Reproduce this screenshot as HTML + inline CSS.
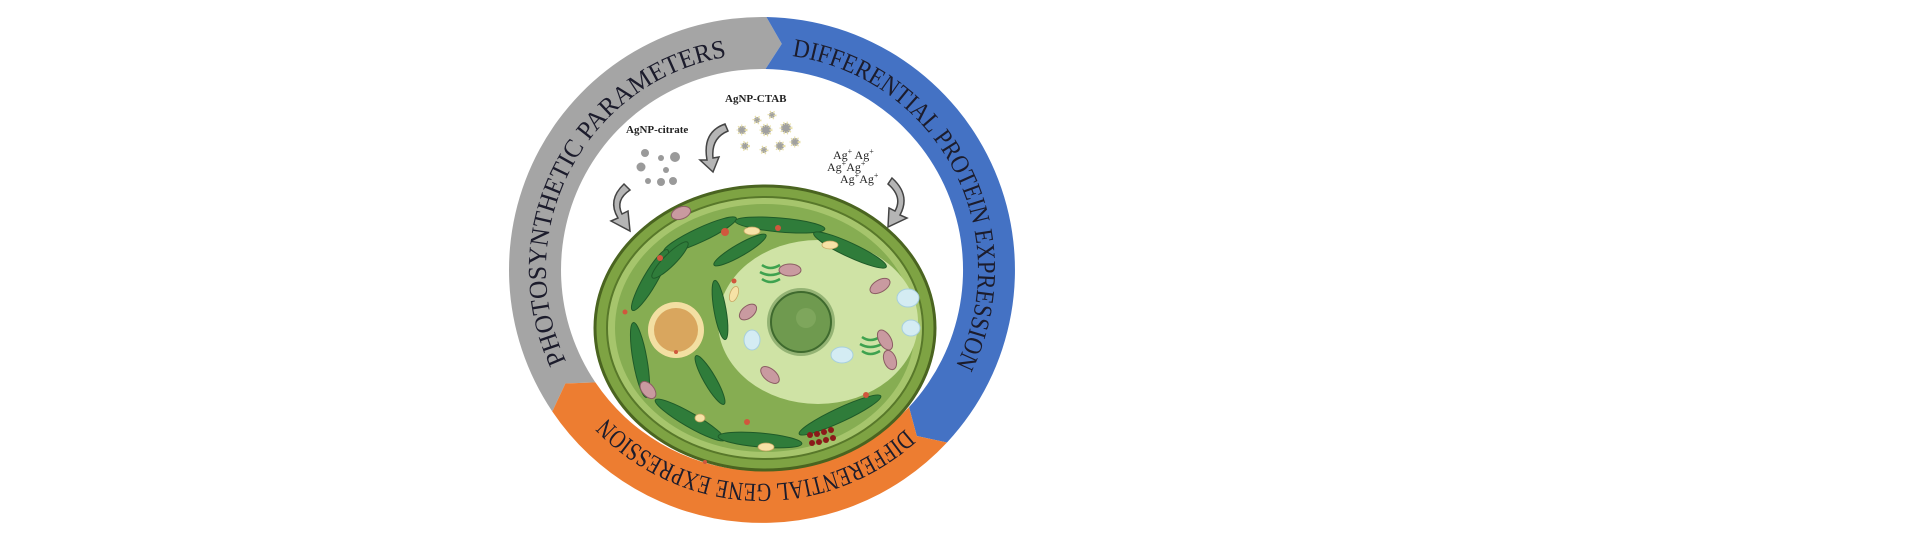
<!DOCTYPE html>
<html><head><meta charset="utf-8"><style>
html,body{margin:0;padding:0;background:#fff;}
svg{display:block;}
</style></head><body>
<svg width="1906" height="537" viewBox="0 0 1906 537" xmlns="http://www.w3.org/2000/svg">
<rect width="1906" height="537" fill="#fff"/>
<path d="M552.3,411.5 A253,253 0 0 1 766.4,17 L781.8,43.9 L765.5,69 A201,201 0 0 0 595.4,382.4 L565.4,383.5 Z" fill="#a5a5a5"/>
<path d="M766.4,17 A253,253 0 0 1 947,442.5 L916.8,436 L909,407.1 A201,201 0 0 0 765.5,69 L781.8,43.9 Z" fill="#4472c4"/>
<path d="M947,442.5 A253,253 0 0 1 552.3,411.5 L565.4,383.5 L595.4,382.4 A201,201 0 0 0 909,407.1 L916.8,436 Z" fill="#ed7d31"/>
<defs>
<path id="tg" d="M566.2,361.3 A216,216 0 0 1 743.2,54.8"/>
<path id="tb" d="M792.1,56.1 A216,216 0 0 1 952.7,371.4"/>
<path id="to" d="M905.2,429 A214,214 0 0 1 608.1,418.7"/>
</defs>
<g font-family="Liberation Serif, serif" font-size="26" fill="#1c1c2c">
<text><textPath href="#tg" textLength="398" lengthAdjust="spacingAndGlyphs">PHOTOSYNTHETIC PARAMETERS</textPath></text>
<text><textPath href="#tb" textLength="408" lengthAdjust="spacingAndGlyphs">DIFFERENTIAL PROTEIN EXPRESSION</textPath></text>
<text><textPath href="#to" textLength="330" lengthAdjust="spacingAndGlyphs">DIFFERENTIAL GENE EXPRESSION</textPath></text>
</g>
<g font-family="Liberation Serif, serif" font-weight="bold" font-size="11" fill="#222">
<text x="626" y="133">AgNP-citrate</text>
<text x="725" y="102">AgNP-CTAB</text>
</g>
<g font-family="Liberation Serif, serif" font-size="12" fill="#222">
<text x="833" y="159">Ag<tspan font-size="8" dy="-5">+</tspan><tspan dy="5"> Ag</tspan><tspan font-size="8" dy="-5">+</tspan></text>
<text x="827" y="171">Ag<tspan font-size="8" dy="-5">+</tspan><tspan dy="5">Ag</tspan><tspan font-size="8" dy="-5">+</tspan></text>
<text x="840" y="183">Ag<tspan font-size="8" dy="-5">+</tspan><tspan dy="5">Ag</tspan><tspan font-size="8" dy="-5">+</tspan></text>
</g>
<g fill="#9a9a9a">
<circle cx="645" cy="153" r="4"/><circle cx="661" cy="158" r="3"/><circle cx="675" cy="157" r="5"/>
<circle cx="641" cy="167" r="4.5"/><circle cx="666" cy="170" r="3"/><circle cx="648" cy="181" r="3"/>
<circle cx="661" cy="182" r="4"/><circle cx="673" cy="181" r="4"/>
</g>
<g fill="#a0a0a0" stroke="#e8dfa8" stroke-width="3" stroke-dasharray="1 2">
<circle cx="742" cy="130" r="4"/><circle cx="757" cy="120" r="3"/><circle cx="766" cy="130" r="5"/>
<circle cx="786" cy="128" r="5"/><circle cx="745" cy="146" r="3.5"/><circle cx="764" cy="150" r="3"/>
<circle cx="780" cy="146" r="4"/><circle cx="795" cy="142" r="4"/><circle cx="772" cy="115" r="3"/>
</g>
<g fill="#b5b5b5" stroke="#444" stroke-width="1.5">
<path d="M624,184 Q607,200 618,218 L611,221 L630,231 L628,211 L622,214 Q615,200 630,190 Z"/>
<path d="M725,124 Q702,132 707,160 L700,160 L713,172 L719,157 L713,158 Q711,138 728,131 Z"/>
<path d="M892,178 Q911,195 900,215 L907,218 L888,227 L889,208 L895,211 Q903,197 888,184 Z"/>
</g>
<ellipse cx="765" cy="328" rx="170" ry="142" fill="#7ea343" stroke="#4a6420" stroke-width="3"/>
<ellipse cx="765" cy="328" rx="158" ry="131" fill="#a6c56c" stroke="#58782a" stroke-width="2"/>
<ellipse cx="765" cy="328" rx="150" ry="124" fill="#86ad52"/>
<ellipse cx="818" cy="322" rx="100" ry="82" fill="#cfe3a5"/>
<circle cx="676" cy="330" r="28" fill="#f3dfa2"/>
<circle cx="676" cy="330" r="22" fill="#d9a65e"/>
<circle cx="801" cy="322" r="34" fill="#3b6b2a" opacity="0.4"/>
<circle cx="801" cy="322" r="30" fill="#6f9a4f" stroke="#3f6a2e" stroke-width="2"/>
<circle cx="806" cy="318" r="10" fill="#7ea65c"/>
<g fill="#2f7c3a" stroke="#1f5a28" stroke-width="1">
<ellipse cx="700" cy="235" rx="40" ry="7" transform="rotate(-25 700 235)"/>
<ellipse cx="780" cy="225" rx="45" ry="7" transform="rotate(5 780 225)"/>
<ellipse cx="850" cy="250" rx="40" ry="7" transform="rotate(25 850 250)"/>
<ellipse cx="650" cy="280" rx="35" ry="7" transform="rotate(-60 650 280)"/>
<ellipse cx="640" cy="360" rx="38" ry="7" transform="rotate(80 640 360)"/>
<ellipse cx="690" cy="420" rx="40" ry="7" transform="rotate(30 690 420)"/>
<ellipse cx="760" cy="440" rx="42" ry="7" transform="rotate(5 760 440)"/>
<ellipse cx="840" cy="415" rx="45" ry="7" transform="rotate(-25 840 415)"/>
<ellipse cx="720" cy="310" rx="30" ry="6" transform="rotate(80 720 310)"/>
<ellipse cx="740" cy="250" rx="30" ry="6" transform="rotate(-30 740 250)"/>
<ellipse cx="670" cy="260" rx="25" ry="6" transform="rotate(-45 670 260)"/>
<ellipse cx="710" cy="380" rx="28" ry="6" transform="rotate(60 710 380)"/>
</g>
<g stroke="#3ea24f" stroke-width="2.5" fill="none">
<path d="M762,265 q8,6 18,0 M760,272 q10,6 22,0 M762,279 q8,6 18,0"/>
<path d="M862,337 q8,6 18,0 M860,344 q10,6 22,0 M862,351 q8,6 18,0"/>
</g>
<g fill="#c99aa0" stroke="#8b5d63" stroke-width="1">
<ellipse cx="681" cy="213" rx="10" ry="6" transform="rotate(-20 681 213)"/>
<ellipse cx="790" cy="270" rx="11" ry="6"/>
<ellipse cx="880" cy="286" rx="11" ry="6" transform="rotate(-30 880 286)"/>
<ellipse cx="748" cy="312" rx="10" ry="6" transform="rotate(-40 748 312)"/>
<ellipse cx="885" cy="340" rx="11" ry="6" transform="rotate(60 885 340)"/>
<ellipse cx="770" cy="375" rx="11" ry="6" transform="rotate(40 770 375)"/>
<ellipse cx="648" cy="390" rx="10" ry="6" transform="rotate(50 648 390)"/>
<ellipse cx="890" cy="360" rx="10" ry="6" transform="rotate(70 890 360)"/>
</g>
<g fill="#d4ecf3" stroke="#a7cfdd" stroke-width="1">
<ellipse cx="908" cy="298" rx="11" ry="9"/>
<ellipse cx="911" cy="328" rx="9" ry="8"/>
<ellipse cx="842" cy="355" rx="11" ry="8"/>
<ellipse cx="752" cy="340" rx="8" ry="10"/>
</g>
<g fill="#d0573d">
<circle cx="725" cy="232" r="4"/><circle cx="778" cy="228" r="3"/><circle cx="660" cy="258" r="3"/>
<circle cx="625" cy="312" r="2.5"/><circle cx="734" cy="281" r="2.5"/><circle cx="866" cy="395" r="3"/>
<circle cx="747" cy="422" r="3"/><circle cx="705" cy="462" r="2"/><circle cx="676" cy="352" r="2"/>
</g>
<g fill="#f6e2a6" stroke="#c8a764" stroke-width="0.8">
<ellipse cx="752" cy="231" rx="8" ry="4"/><ellipse cx="830" cy="245" rx="8" ry="4"/>
<ellipse cx="734" cy="294" rx="4" ry="8" transform="rotate(20 734 294)"/>
<ellipse cx="766" cy="447" rx="8" ry="4"/><ellipse cx="700" cy="418" rx="5" ry="4"/>
</g>
<g fill="#8b1a1a">
<circle cx="810" cy="435" r="3"/><circle cx="817" cy="434" r="3"/><circle cx="824" cy="432" r="3"/><circle cx="831" cy="430" r="3"/>
<circle cx="812" cy="443" r="3"/><circle cx="819" cy="442" r="3"/><circle cx="826" cy="440" r="3"/><circle cx="833" cy="438" r="3"/>
</g>
</svg>
</body></html>
